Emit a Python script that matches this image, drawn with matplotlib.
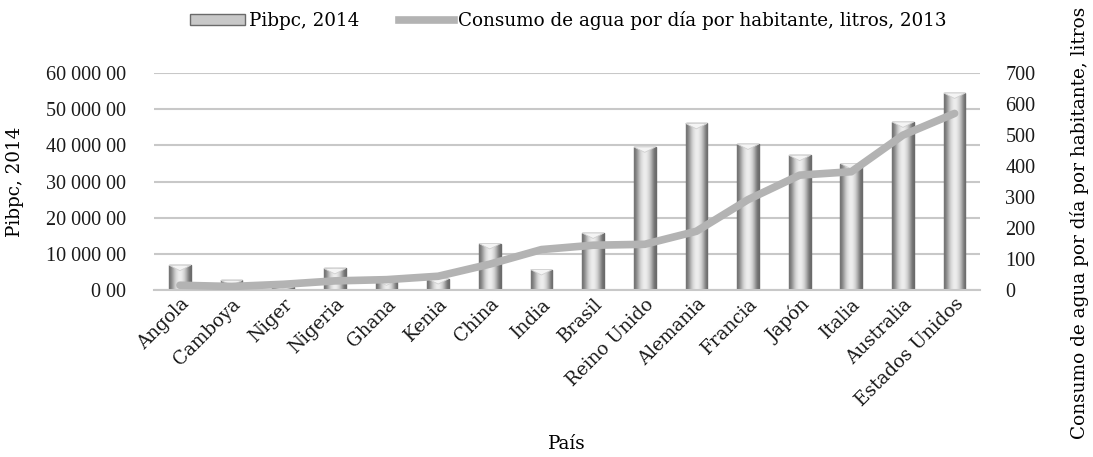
import numpy as np
import matplotlib
matplotlib.use("Agg")
import matplotlib.pyplot as plt
from matplotlib.patches import Patch, Polygon
from matplotlib.lines import Line2D
from matplotlib.ticker import FuncFormatter, MultipleLocator

paises = ["Angola", "Camboya", "Niger", "Nigeria", "Ghana", "Kenia", "China", "India",
          "Brasil", "Reino Unido", "Alemania", "Francia", "Japón", "Italia",
          "Australia", "Estados Unidos"]
pibpc_2014 = [6900, 2700, 900, 6000, 2700, 3200, 12900, 5700,
              15800, 39600, 46100, 40400, 37300, 35000, 46500, 54500]
agua_2013 = [16, 12, 19, 30, 34, 45, 84, 131,
             145, 148, 190, 292, 371, 382, 500, 570]

TXT = ['DejaVu Serif']
NUM = ['Liberation Serif', 'DejaVu Serif']
plt.rcParams['font.family'] = TXT
FS_T = 13.2
FS_N = 14.5

fig = plt.figure(figsize=(10.93, 4.57), dpi=100)
ax = fig.add_axes([0.141, 0.365, 0.756, 0.475])

x = np.arange(len(paises))
bars = ax.bar(x, pibpc_2014, width=0.42, color='#c8c8c8', edgecolor='#6a6a6a',
              linewidth=1.0, zorder=2)

# cylinder-like shading for the bars, with a light notch on top
profile = np.array([[0.45, 0.62, 0.8, 0.9, 0.94, 0.9, 0.8, 0.62, 0.42]])
notch = 1500
for b in bars:
    x0, w, h = b.get_x(), b.get_width(), b.get_height()
    im = ax.imshow(profile, cmap='gray', vmin=0, vmax=1, aspect='auto',
                   extent=(x0, x0 + w, 0, h), interpolation='bicubic', zorder=2.5)
    im.set_clip_path(b)
    d = min(notch, h * 0.5)
    ax.add_patch(Polygon([(x0, h), (x0 + w, h), (x0 + w / 2, h - d)], closed=True,
                         facecolor='#f4f4f4', edgecolor='#d0d0d0', linewidth=0.6, zorder=2.6))

ax.set_xlim(-0.5, len(paises) - 0.5)
ax.set_ylim(0, 60000)
ax.yaxis.set_major_locator(MultipleLocator(10000))
ax.yaxis.set_major_formatter(FuncFormatter(lambda v, p: f"{v:,.0f}".replace(",", " ") + " 00"))
ax.grid(axis='y', color='#c8c8c8', linewidth=1.5, zorder=0)
ax.set_axisbelow(True)
for s in ['top', 'right', 'left']:
    ax.spines[s].set_visible(False)
ax.spines['bottom'].set_color('#c8c8c8')
ax.spines['bottom'].set_linewidth(1.5)
ax.tick_params(axis='both', length=0, colors='#1a1a1a')
ax.tick_params(axis='y', pad=20, labelsize=FS_N)
for t in ax.get_yticklabels():
    t.set_family(NUM)
ax.set_xticks(x)
ax.set_xticklabels(paises, rotation=45, ha='right', rotation_mode='anchor', fontsize=FS_T)
ax.set_xlabel('País', fontsize=FS_T)
ax.xaxis.set_label_coords(0.5, -0.665)
ax.set_ylabel('Pibpc, 2014', fontsize=FS_T)
ax.yaxis.set_label_coords(-0.158, 0.5)

ax2 = ax.twinx()
ax2.plot(x, agua_2013, color='#b3b3b3', linewidth=5.5, solid_capstyle='round',
         solid_joinstyle='round', zorder=3)
ax2.set_ylim(0, 700)
ax2.yaxis.set_major_locator(MultipleLocator(100))
for s in ['top', 'right', 'left', 'bottom']:
    ax2.spines[s].set_visible(False)
ax2.tick_params(axis='y', length=0, labelsize=FS_N, pad=18, colors='#1a1a1a')
for t in ax2.get_yticklabels():
    t.set_family(NUM)
ax2.set_ylabel('Consumo de agua por día por habitante, litros', fontsize=13.3)
ax2.yaxis.set_label_coords(1.108, 0.31)

handles = [Patch(facecolor='#c8c8c8', edgecolor='#6a6a6a', label='Pibpc, 2014'),
           Line2D([], [], color='#b3b3b3', linewidth=5.5, label='Consumo de agua por día por habitante, litros, 2013')]
fig.legend(handles=handles, loc='center', bbox_to_anchor=(0.52, 0.955), ncol=2,
           frameon=False, fontsize=FS_T, handlelength=3.0, handleheight=0.5,
           columnspacing=2.2, handletextpad=0.2)

fig.savefig('out.png', dpi=100)
